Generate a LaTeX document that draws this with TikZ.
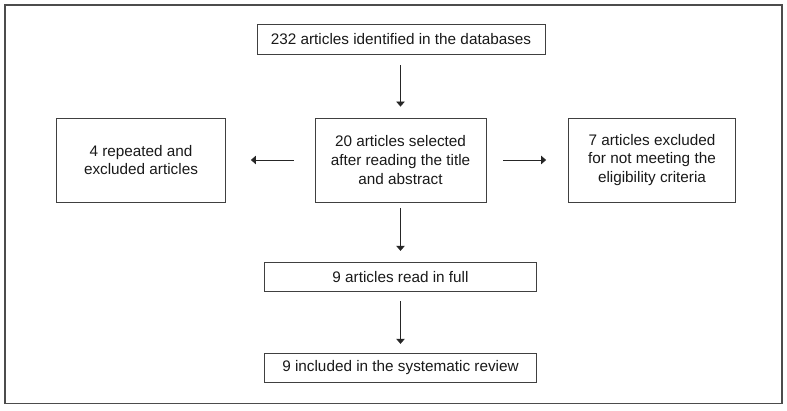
\documentclass[tikz,border=0pt]{standalone}
\usepackage{fontspec}
\setmainfont{Liberation Sans}
\usetikzlibrary{arrows.meta}

\tikzset{
  box/.style={draw=black!75, line width=0.8pt, inner sep=0pt, align=center,
    font=\fontsize{15.3}{18.6}\selectfont, text=black!90},
  arr/.style={-{Triangle[length=5pt,width=8.5pt]}, line width=0.8pt, draw=black!85}
}

\begin{document}
\begin{tikzpicture}[x=1pt,y=-1pt]
  \useasboundingbox (0,0) rectangle (787,411);
  % outer frame
  \draw[black!70, line width=1.6pt] (5,5) rectangle (782,403.5);
  % boxes
  \node[box, minimum width=288pt, minimum height=30pt] (found) at (401,39) {232 articles identified in the databases};
  \node[box, minimum width=171pt, minimum height=84pt] (sel) at (400.5,160) {20 articles selected\\after reading the title\\and abstract};
  \node[box, minimum width=169pt, minimum height=84pt] (rep) at (141,160) {4 repeated and\\excluded articles};
  \node[box, minimum width=167pt, minimum height=84pt] (excl) at (652,160) {7 articles excluded\\for not meeting the\\eligibility criteria};
  \node[box, minimum width=272pt, minimum height=29.5pt] (read) at (400.5,277) {9 articles read in full};
  \node[box, minimum width=272pt, minimum height=29.5pt] (incl) at (400.5,368) {9 included in the systematic review};
  % arrows
  \draw[arr, shorten <=11pt, shorten >=11pt] (found.south -| sel.north) -- (sel.north);
  \draw[arr, shorten <=21pt, shorten >=25pt] (sel.west) -- (rep.east);
  \draw[arr, shorten <=17pt, shorten >=22pt] (sel.east) -- (excl.west);
  \draw[arr, shorten <=6pt, shorten >=11pt] (sel.south) -- (read.north);
  \draw[arr, shorten <=9pt, shorten >=9pt] (read.south) -- (incl.north);
\end{tikzpicture}
\end{document}
